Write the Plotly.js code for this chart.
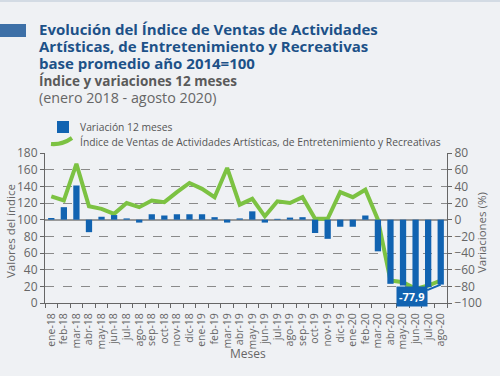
<!DOCTYPE html>
<html>
<head>
<meta charset="utf-8">
<script src="https://cdn.plot.ly/plotly-3.0.1.min.js"></script>
<style>html,body{margin:0;padding:0;background:#eff1f4;}#chart{width:500px;height:376px;}</style>
</head>
<body>
<div id="chart"></div>
<script>
const months = ["ene-18","feb-18","mar-18","abr-18","may-18","jun-18","jul-18","ago-18","sep-18","oct-18","nov-18","dic-18",
"ene-19","feb-19","mar-19","abr-19","may-19","jun-19","jul-19","ago-19","sep-19","oct-19","nov-19","dic-19",
"ene-20","feb-20","mar-20","abr-20","may-20","jun-20","jul-20","ago-20"];
const indexValues = [128,123,167,116,113,107,120,115,123,121,133,144,
137,127,162,118,125,104,122,120,127,101,101,133,
127,136,100,27,25,17,21,27];
const variation = [2,15,41,-15,3.5,5.5,1.5,-3.5,6.5,5,6.5,6.5,
6.5,3,-3.5,1.5,10,-3.5,1,2.5,3,-16,-23,-8.5,
-8.5,5,-38,-77,-79,-81,-81,-77.9];
const leftTicks = [0,20,40,60,80,100,120,140,160,180];
const rightTicks = [-100,-80,-60,-40,-20,0,20,40,60,80];
const barName = "Variación 12 meses";
const lineName = "Índice de Ventas de Actividades Artísticas, de Entretenimiento y Recreativas";
const titleLines = ["Evolución del Índice de Ventas de Actividades",
  "Artísticas, de Entretenimiento y Recreativas",
  "base promedio año 2014=100"];
const subtitle = "Índice y variaciones 12 meses";
const period = "(enero 2018 - agosto 2020)";

const FONT = "Open Sans, Noto Sans, sans-serif";
const L = 45, R = 447, T = 153, B = 303;
const px = x => (x - L) / (R - L);
const py = y => (B - y) / (B - T);

const traces = [
  {type:"bar", name:barName, x:months, y:variation, yaxis:"y2",
   marker:{color:"#1163b1"}, showlegend:false},
  {type:"scatter", mode:"lines", name:lineName,
   x:months, y:indexValues, yaxis:"y", line:{color:"#7cc242", width:4}, showlegend:false}
];

function tf(size){ return {family:FONT, size:size, color:"#666"}; }

const headerText =
  titleLines.map(t => `<span style="font-size:15px;color:#1d5188"><b>${t}</b></span>`).join("<br>") +
  `<br><span style="font-size:13.5px;color:#5a5a5a"><b>${subtitle}</b></span>` +
  `<br><span style="font-size:14.3px;color:#666">${period}</span>`;

const layout = {
  width:500, height:376,
  paper_bgcolor:"#eff1f4", plot_bgcolor:"#eff1f4",
  margin:{l:L, r:500-R, t:T, b:376-B, pad:0},
  showlegend:false,
  bargap:0.5,
  xaxis:{type:"category", tickmode:"linear", tick0:0, dtick:1, tickson:"boundaries", tickangle:-90, tickfont:tf(10.5),
    ticklabelstandoff:5,
    showline:true, linecolor:"#666", linewidth:1, ticks:"outside", ticklen:4, tickcolor:"#666",
    showgrid:false, zeroline:false, automargin:false},
  yaxis:{range:[0,180], tickvals:leftTicks, tickfont:tf(12), automargin:false,
    showline:true, linecolor:"#666", linewidth:1, ticks:"outside", ticklen:4, tickcolor:"#666",
    showgrid:true, gridcolor:"#8a8a8a", griddash:"dash", gridwidth:1, zeroline:false},
  yaxis2:{overlaying:"y", side:"right", range:[-100,80], tickvals:rightTicks, tickfont:tf(12), automargin:false,
    showline:true, linecolor:"#666", linewidth:1, ticks:"outside", ticklen:4, tickcolor:"#666",
    showgrid:false, zeroline:true, zerolinecolor:"#999", zerolinewidth:2},
  shapes:[
    {type:"rect", xref:"paper", yref:"paper", x0:px(0), x1:px(26), y0:py(37), y1:py(24), fillcolor:"#3d70a7", line:{width:0}},
    {type:"line", xref:"paper", yref:"paper", x0:px(0), x1:px(500), y0:py(1), y1:py(1), line:{color:"#d3dbe4", width:2}},
    {type:"rect", xref:"paper", yref:"paper", x0:px(57), x1:px(69), y0:py(133), y1:py(121), fillcolor:"#1163b1", line:{width:0}},
    {type:"path", xref:"paper", yref:"paper",
     path:`M ${px(51)} ${py(144)} Q ${px(62)} ${py(145)} ${px(72)} ${py(138)}`, line:{color:"#7cc242", width:4}}
  ],
  annotations:[
    {xref:"paper", yref:"paper", x:px(37), y:py(63), xanchor:"left", yanchor:"middle", align:"left", showarrow:false,
     text:headerText, font:{family:FONT, size:13, color:"#1d5188"}},
    {xref:"paper", yref:"paper", x:px(78), y:py(127), xanchor:"left", yanchor:"middle", showarrow:false,
     text:barName, font:{family:FONT, size:10.3, color:"#555"}},
    {xref:"paper", yref:"paper", x:px(78), y:py(142), xanchor:"left", yanchor:"middle", showarrow:false,
     text:lineName, font:{family:FONT, size:10.3, color:"#555"}},
    {xref:"paper", yref:"paper", x:px(10), y:py(231), xanchor:"center", yanchor:"middle", textangle:-90, showarrow:false,
     text:"Valores del índice", font:{family:FONT, size:11.5, color:"#666"}},
    {xref:"paper", yref:"paper", x:px(481), y:py(233), xanchor:"center", yanchor:"middle", textangle:-90, showarrow:false,
     text:"Variaciones (%)", font:{family:FONT, size:11.5, color:"#666"}},
    {xref:"paper", yref:"paper", x:px(248), y:py(353), xanchor:"center", yanchor:"middle", showarrow:false,
     text:"Meses", font:{family:FONT, size:12, color:"#666"}},
    {xref:"x", yref:"y2", x:31, y:-77.9, ax:-29, ay:12, showarrow:true, arrowhead:0,
     arrowcolor:"#1163b1", arrowwidth:2, text:"<b>-77,9</b>", bgcolor:"#1163b1", borderpad:2,
     font:{family:FONT, size:11, color:"#ffffff"}}
  ]
};

Plotly.newPlot("chart", traces, layout, {displayModeBar:false, staticPlot:true});
</script>
</body>
</html>
